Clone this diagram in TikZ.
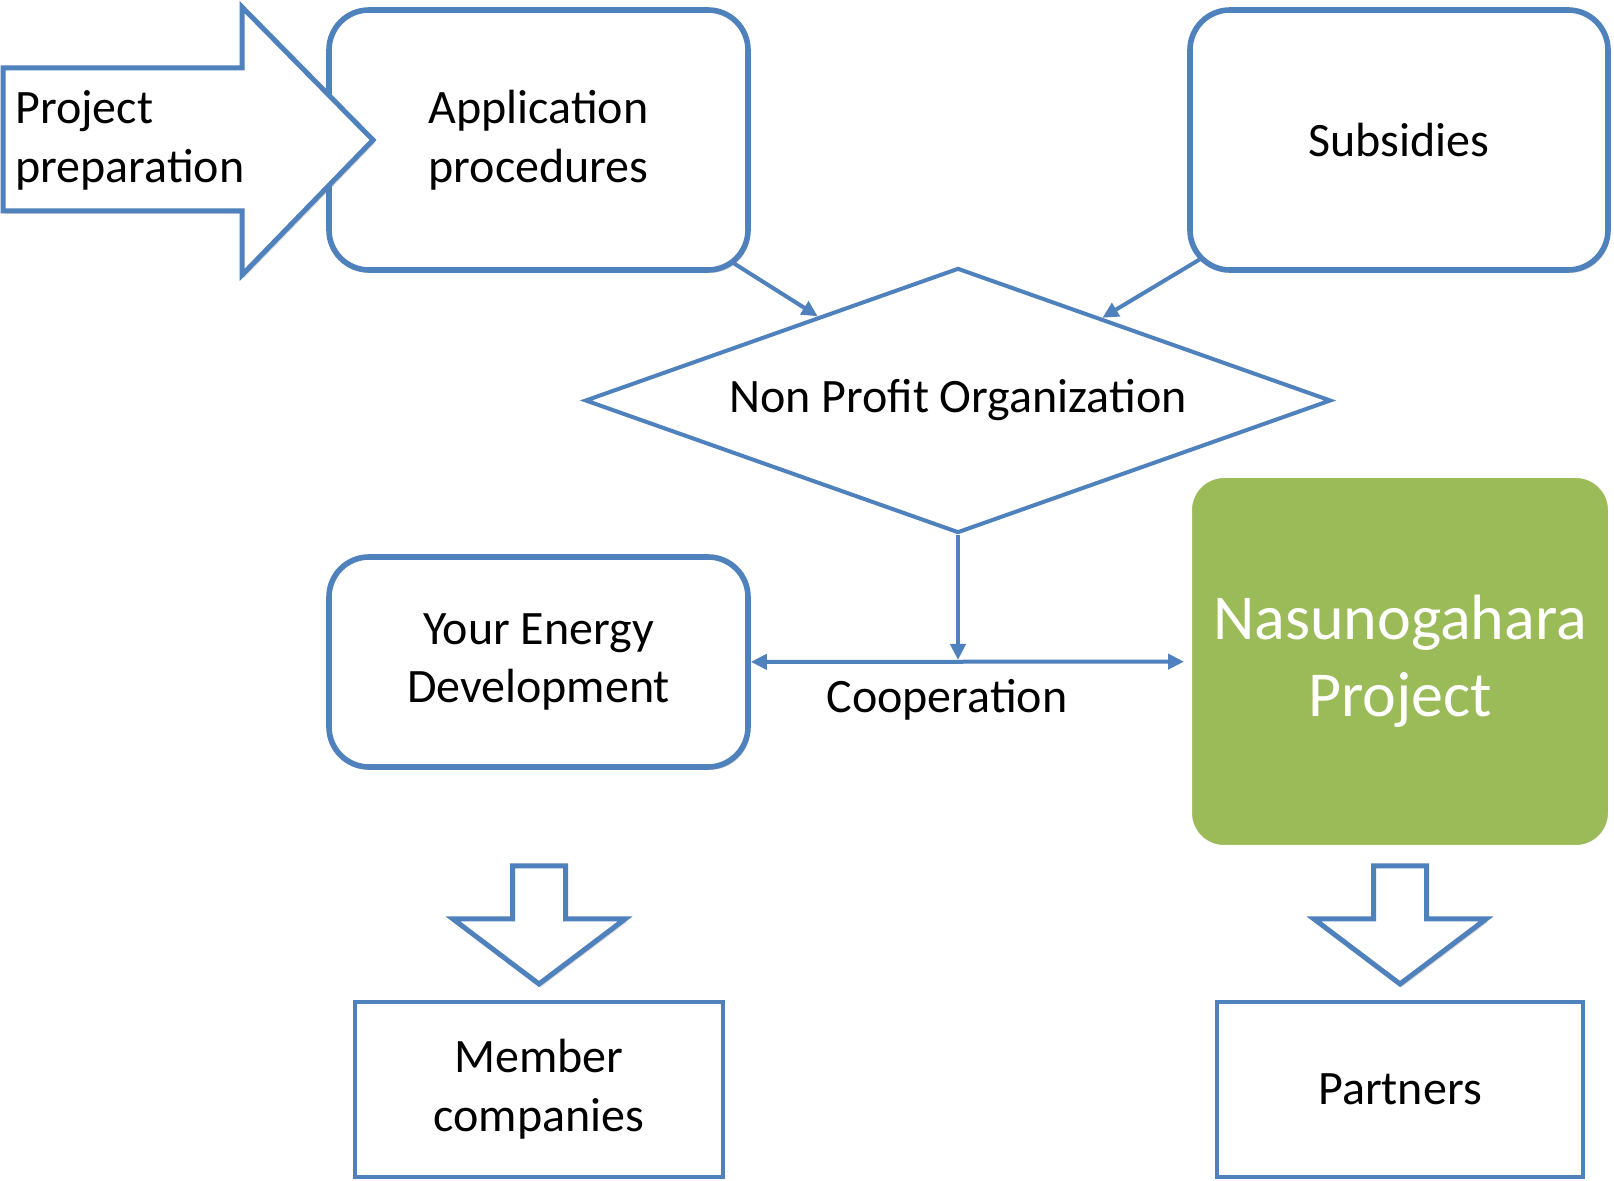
\documentclass[tikz,border=0pt]{standalone}
\usepackage{fontspec}
\setmainfont{Carlito}
\usetikzlibrary{arrows.meta,shapes.geometric,shadows,backgrounds,calc}
\definecolor{officeblue}{HTML}{4F81BD}
\definecolor{officegreen}{HTML}{9BBB59}
\begin{document}
\begin{tikzpicture}[x=0.5pt, y=-0.5pt,
    font=\fontsize{24}{29.4}\selectfont,
    softshadow/.style={drop shadow={opacity=0.3, shadow xshift=1pt, shadow yshift=-1.5pt}},
    box/.style={draw=officeblue, line width=2.8pt, fill=white, rounded corners=20pt,
        align=center, softshadow},
    plainbox/.style={draw=officeblue, line width=2.4pt, fill=white, align=center,
        minimum width=184pt, minimum height=87.5pt},
    blockarrow/.style={draw=officeblue, line width=2.5pt, fill=white, miter limit=10, softshadow},
    link/.style={officeblue, line width=2pt, -{Triangle[length=8pt, width=7.5pt]}},
    twoway/.style={officeblue, line width=2pt,
        {Triangle[length=8pt, width=7.5pt]}-{Triangle[length=8pt, width=7.5pt]}}]
    \useasboundingbox (0,0) rectangle (1614,1181);
    % top row
    \node[box, minimum width=209.5pt, minimum height=130pt] (app) at (538.5,140) {Application\\procedures};
    \draw[blockarrow] (3,68) -- (242,68) -- (242,7) -- (373,140) -- (242,275) -- (242,211) -- (3,211) -- cycle;
    \node[anchor=west, align=left, inner sep=0pt] (prep) at (15,140) {Project\\preparation};
    \node[box, minimum width=209pt, minimum height=130pt] (sub) at (1399,140) {Subsidies};
    % middle
    \node[diamond, draw=officeblue, line width=2pt, fill=white, inner sep=0pt, aspect=2.8,
        minimum width=373pt, minimum height=132.5pt] (npo) at (958,400.5) {Non Profit Organization};
    \node[box, minimum width=209.5pt, minimum height=105pt] (yed) at (538.5,662) {Your Energy\\Development};
    \node[draw=white, line width=4pt, fill=officegreen, rounded corners=18pt, align=center,
        minimum width=212pt, minimum height=187.5pt, text=white,
        font=\fontsize{32}{38.5}\selectfont, softshadow] (nas) at (1400,661.5) {Nasunogahara\\Project};
    \node (coop) at (947,700) {Cooperation};
    % connectors
    \begin{scope}[on background layer]
        \fill[white] (0,0) rectangle (1614,1181);
        \draw[link] (app.center) -- ($(npo.north)!0.374!(npo.west)$);
        \draw[link] (sub.center) -- ($(npo.north)!0.385!(npo.east)$);
    \end{scope}
    \draw[twoway] (yed) -- (nas);
    \draw[link, shorten >=1pt] (npo.south) -- (npo.south |- yed.east);
    % bottom
    \foreach \cx in {539,1400}
        \draw[blockarrow] (\cx-26.5,866) -- (\cx+26.5,866) -- (\cx+26.5,919) -- (\cx+86,919)
            -- (\cx,984) -- (\cx-86,919) -- (\cx-26.5,919) -- cycle;
    \node[plainbox] (mem) at (539,1089.5) {Member\\companies};
    \node[plainbox, minimum width=183pt] (par) at (1400,1089.5) {Partners};
\end{tikzpicture}
\end{document}
